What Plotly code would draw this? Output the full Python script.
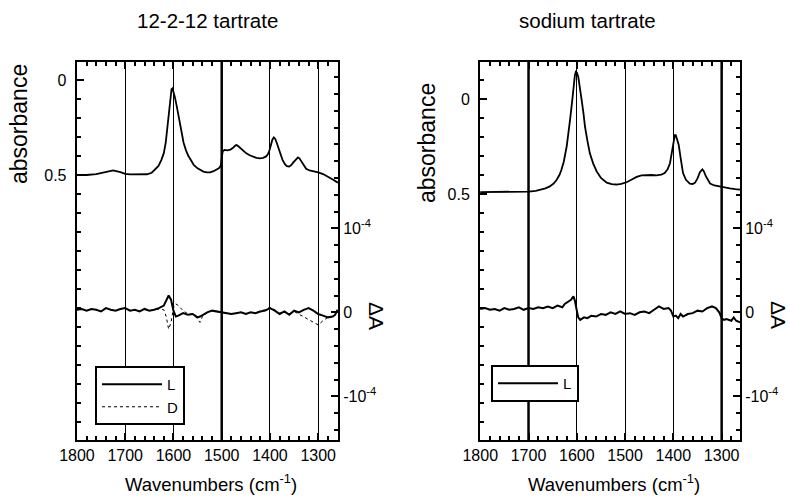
import plotly.graph_objects as go

# ---------------- data ----------------
# Left panel: 12-2-12 tartrate, absorbance spectrum
left_abs_wn = [1800, 1780, 1760, 1740, 1725, 1710, 1700, 1690, 1670, 1655, 1645, 1638, 1631, 1625,
               1620, 1616, 1613, 1610, 1607, 1604, 1602, 1600, 1597, 1593, 1589, 1586, 1582, 1579,
               1574, 1569, 1563, 1558, 1550, 1545, 1538, 1531, 1524, 1517, 1511, 1506, 1502, 1500,
               1498, 1494, 1488, 1482, 1477, 1472, 1469, 1465, 1460, 1455, 1449, 1442, 1435, 1428,
               1421, 1414, 1408, 1404, 1401, 1398, 1395, 1392, 1389, 1386, 1382, 1378, 1374, 1369,
               1365, 1360, 1356, 1351, 1346, 1342, 1339, 1335, 1330, 1325, 1318, 1310, 1300, 1290,
               1282, 1275, 1268, 1262, 1259]
left_abs_val = [0.500, 0.500, 0.495, 0.482, 0.476, 0.485, 0.494, 0.497, 0.498, 0.496, 0.488, 0.472,
                0.452, 0.420, 0.385, 0.330, 0.260, 0.175, 0.090, 0.048, 0.044, 0.058, 0.090, 0.140,
                0.200, 0.245, 0.300, 0.330, 0.370, 0.400, 0.425, 0.447, 0.465, 0.474, 0.482, 0.486,
                0.486, 0.480, 0.473, 0.465, 0.452, 0.400, 0.375, 0.368, 0.370, 0.366, 0.358, 0.345,
                0.342, 0.350, 0.362, 0.372, 0.386, 0.396, 0.404, 0.410, 0.412, 0.410, 0.402, 0.390,
                0.370, 0.340, 0.314, 0.302, 0.310, 0.330, 0.360, 0.390, 0.420, 0.443, 0.453, 0.455,
                0.448, 0.432, 0.415, 0.407, 0.412, 0.430, 0.452, 0.467, 0.476, 0.480, 0.486, 0.495,
                0.505, 0.514, 0.526, 0.536, 0.540]

# Left panel: difference spectra (units of 1e-4)
left_dA_wn = [1800, 1790, 1780, 1770, 1760, 1750, 1740, 1730, 1720, 1710, 1700, 1690, 1680, 1670,
              1660, 1650, 1640, 1630, 1620, 1615, 1610, 1605, 1600, 1595, 1590, 1580, 1570, 1560,
              1550, 1545, 1540, 1530, 1520, 1510, 1500, 1490, 1480, 1470, 1460, 1450, 1440, 1430,
              1420, 1410, 1400, 1390, 1380, 1370, 1360, 1350, 1340, 1330, 1320, 1310, 1300, 1290,
              1280, 1270, 1265, 1260]
left_dA_L = [0.03, 0.04, 0.02, 0.04, 0.03, 0.01, 0.05, 0.03, 0.02, 0.04, 0.05, 0.02, 0.03, 0.01,
             0.04, 0.02, 0.03, 0.05, 0.08, 0.14, 0.20, 0.15, 0.02, -0.05, -0.04, -0.01, -0.03, -0.02,
             -0.06, -0.05, -0.03, 0.00, 0.02, 0.01, 0.00, -0.01, -0.02, -0.01, 0.00, -0.02, 0.00, -0.01,
             0.01, 0.02, 0.05, 0.02, -0.02, 0.01, -0.03, 0.02, 0.00, 0.03, 0.05, 0.02, -0.02, -0.04,
             -0.06, -0.05, -0.03, 0.03]
left_dA_D = [0.03, 0.04, 0.02, 0.04, 0.03, 0.01, 0.05, 0.03, 0.02, 0.04, 0.05, 0.02, 0.03, 0.01,
             0.04, 0.02, 0.03, 0.04, 0.03, -0.05, -0.20, -0.12, 0.05, 0.10, 0.08, 0.02, -0.02, -0.02,
             -0.08, -0.12, -0.05, 0.00, 0.02, 0.01, 0.00, -0.01, -0.02, -0.01, 0.00, -0.02, 0.00, -0.01,
             0.02, 0.03, 0.06, 0.03, -0.01, 0.01, -0.02, 0.01, -0.02, -0.06, -0.09, -0.12, -0.15, -0.10,
             -0.06, -0.05, -0.03, 0.03]

# Right panel: sodium tartrate, absorbance spectrum
right_abs_wn = [1800, 1760, 1720, 1700, 1685, 1677, 1665, 1656, 1648, 1642, 1636, 1632, 1627, 1621,
                1617, 1614, 1610, 1607, 1604, 1602, 1600, 1597, 1594, 1590, 1586, 1583, 1578, 1573,
                1566, 1559, 1550, 1538, 1528, 1518, 1508, 1497, 1487, 1476, 1466, 1456, 1445, 1435,
                1425, 1418, 1412, 1407, 1403, 1400, 1397, 1395, 1392, 1389, 1385, 1380, 1374, 1366,
                1360, 1355, 1350, 1345, 1340, 1337, 1333, 1328, 1324, 1315, 1303, 1290, 1283, 1272,
                1262]
right_abs_val = [0.490, 0.490, 0.488, 0.487, 0.484, 0.479, 0.470, 0.460, 0.445, 0.426, 0.400, 0.374,
                 0.330, 0.250, 0.180, 0.110, 0.020, -0.065, -0.125, -0.144, -0.140, -0.117, -0.070,
                 0.005, 0.080, 0.146, 0.220, 0.286, 0.340, 0.380, 0.415, 0.440, 0.448, 0.450, 0.447,
                 0.438, 0.425, 0.410, 0.402, 0.400, 0.400, 0.402, 0.398, 0.390, 0.370, 0.338, 0.280,
                 0.216, 0.190, 0.190, 0.210, 0.240, 0.310, 0.390, 0.425, 0.445, 0.447, 0.440, 0.418,
                 0.385, 0.370, 0.380, 0.405, 0.430, 0.445, 0.455, 0.462, 0.468, 0.470, 0.474, 0.477]

right_dA_wn = [1800, 1790, 1780, 1770, 1760, 1750, 1740, 1730, 1720, 1710, 1700, 1690, 1680, 1670,
               1660, 1650, 1640, 1630, 1625, 1620, 1612, 1607, 1604, 1600, 1597, 1593, 1585, 1578,
               1570, 1560, 1550, 1540, 1530, 1520, 1510, 1500, 1490, 1480, 1470, 1460, 1450, 1440,
               1430, 1420, 1410, 1405, 1400, 1395, 1390, 1385, 1380, 1370, 1360, 1350, 1340, 1330,
               1320, 1312, 1305, 1300, 1295, 1290, 1280, 1275, 1270, 1262]
right_dA_L = [0.04, 0.05, 0.03, 0.04, 0.02, 0.05, 0.03, 0.04, 0.06, 0.03, 0.05, 0.04, 0.06, 0.05,
              0.07, 0.05, 0.08, 0.06, 0.10, 0.12, 0.15, 0.19, 0.14, 0.02, -0.06, -0.09, -0.06, -0.07,
              -0.04, -0.05, -0.02, -0.03, 0.00, -0.02, 0.01, -0.02, -0.01, -0.03, 0.00, 0.01, -0.01,
              0.03, 0.07, 0.04, 0.05, 0.02, -0.05, -0.04, -0.07, -0.02, -0.05, -0.02, -0.01, 0.02,
              0.01, 0.05, 0.07, 0.05, 0.00, -0.07, -0.09, -0.08, -0.10, -0.06, -0.10, -0.12]

# Axis tick definitions
wn_ticks = [1800, 1700, 1600, 1500, 1400, 1300]
abs_ticks = [0, 0.5]
abs_tick_text = ["0", "0.5"]
dA_ticks = [-1, 0, 1]
dA_tick_text = ["-10<sup>-4</sup>", "0", "10<sup>-4</sup>"]
thick_grid_left = [1500]
thick_grid_right = [1700, 1300]

# ---------------- figure ----------------
FONT = "Liberation Sans, Arial, sans-serif"
W, H = 790, 497
fig = go.Figure()

fig.add_trace(go.Scatter(x=left_abs_wn, y=left_abs_val, xaxis="x", yaxis="y", mode="lines",
                         line=dict(color="black", width=1.8), showlegend=False))
fig.add_trace(go.Scatter(x=left_dA_wn, y=left_dA_D, xaxis="x", yaxis="y2", mode="lines", name="D",
                         line=dict(color="black", width=1, dash="dot"), legend="legend"))
fig.add_trace(go.Scatter(x=left_dA_wn, y=left_dA_L, xaxis="x", yaxis="y2", mode="lines", name="L",
                         line=dict(color="black", width=2), legend="legend"))
fig.add_trace(go.Scatter(x=right_abs_wn, y=right_abs_val, xaxis="x2", yaxis="y3", mode="lines",
                         line=dict(color="black", width=1.8), showlegend=False))
fig.add_trace(go.Scatter(x=right_dA_wn, y=right_dA_L, xaxis="x2", yaxis="y4", mode="lines", name="L",
                         line=dict(color="black", width=2), legend="legend2"))

y_dom = [1 - 440 / H, 1 - 62 / H]


def xaxis_def(domain, rng, anchor):
    return dict(domain=domain, range=rng, anchor=anchor, tickmode="array", tickvals=wn_ticks,
                ticks="inside", ticklen=7, tickwidth=1.5, tickcolor="black", mirror="ticks",
                showline=True, linewidth=2, linecolor="black", showgrid=True, gridcolor="black",
                gridwidth=1, zeroline=False, tickfont=dict(size=16, color="black"),
                minor=dict(dtick=20, tick0=1800, ticks="inside", ticklen=4, tickcolor="black",
                           tickwidth=1.5, showgrid=False))


def abs_axis_def(rng, anchor):
    return dict(domain=y_dom, range=rng, anchor=anchor, tickmode="array", tickvals=abs_ticks,
                ticktext=abs_tick_text, ticks="inside", ticklen=7, tickwidth=1.5, tickcolor="black",
                showline=True, linewidth=2, linecolor="black", showgrid=False, zeroline=False,
                tickfont=dict(size=16, color="black"), ticklabelstandoff=5,
                minor=dict(tickmode="array", tickvals=[round(-0.1 + 0.1 * i, 2) for i in range(20)],
                           ticks="inside", ticklen=4, tickcolor="black", tickwidth=1.5, showgrid=False))


def dA_axis_def(overlay, anchor):
    return dict(overlaying=overlay, side="right", anchor=anchor, range=[-1.52, 2.98],
                tickmode="array", tickvals=dA_ticks, ticktext=dA_tick_text, ticks="inside",
                ticklen=7, tickwidth=1.5, tickcolor="black", showline=True, linewidth=2,
                linecolor="black", showgrid=False, zeroline=False,
                tickfont=dict(size=16, color="black"),
                minor=dict(tickmode="array", tickvals=[round(-1.4 + 0.2 * i, 2) for i in range(22)],
                           ticks="inside", ticklen=4, tickcolor="black", tickwidth=1.5, showgrid=False))


shapes = []
for v in thick_grid_left:
    shapes.append(dict(type="line", xref="x", yref="y domain", x0=v, x1=v, y0=0, y1=1,
                       line=dict(color="black", width=2.5)))
for v in thick_grid_right:
    shapes.append(dict(type="line", xref="x2", yref="y3 domain", x0=v, x1=v, y0=0, y1=1,
                       line=dict(color="black", width=2.5)))


def ann(text, px, py, size, angle=0):
    return dict(text=text, x=px / W, y=1 - py / H, xref="paper", yref="paper", xanchor="center",
                yanchor="middle", showarrow=False, textangle=angle, font=dict(size=size))


annotations = [
    ann("12-2-12 tartrate", 207, 20, 20.5),
    ann("sodium tartrate", 587, 20, 20.5),
    ann("absorbance", 19, 124, 23, -90),
    ann("absorbance", 427, 143, 23, -90),
    ann("Wavenumbers (cm<sup>-1</sup>)", 211, 483, 18.5),
    ann("Wavenumbers (cm<sup>-1</sup>)", 614, 483, 18.5),
    ann("ΔA", 377, 316, 21, 90),
    ann("ΔA", 779, 315, 21, 90),
]

fig.update_layout(
    width=W, height=H, template="none",
    margin=dict(l=0, r=0, t=0, b=0),
    paper_bgcolor="white", plot_bgcolor="white",
    font=dict(family=FONT, color="black", size=16),
    xaxis=xaxis_def([76.7 / W, 338 / W], [1800.5, 1259], "y"),
    yaxis=abs_axis_def([1.895, -0.095], "x"),
    yaxis2=dA_axis_def("y", "x"),
    xaxis2=xaxis_def([480 / W, 740 / W], [1800.5, 1262], "y3"),
    yaxis3=abs_axis_def([1.795, -0.195], "x2"),
    yaxis4=dA_axis_def("y3", "x2"),
    shapes=shapes,
    annotations=annotations,
    legend=dict(x=95 / W, y=1 - 366 / H, xanchor="left", yanchor="top", bgcolor="white",
                bordercolor="black", borderwidth=2, font=dict(size=15), itemwidth=60,
                traceorder="reversed", tracegroupgap=0, entrywidth=98, entrywidthmode="pixels"),
    legend2=dict(x=491 / W, y=1 - 365 / H, xanchor="left", yanchor="top", bgcolor="white",
                 bordercolor="black", borderwidth=2, font=dict(size=15), itemwidth=60,
                 entrywidth=98, entrywidthmode="pixels"),
)

fig.write_html("out.html", config={"displayModeBar": False},
               post_script="document.body.style.margin='0';")
